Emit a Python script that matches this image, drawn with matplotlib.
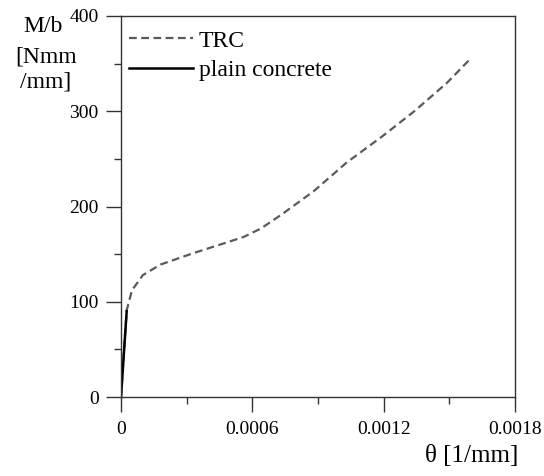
import numpy as np
import matplotlib.pyplot as plt
from matplotlib.ticker import MultipleLocator

plt.rcParams['font.family'] = ['Liberation Serif', 'DejaVu Serif']

# TRC curve
trc_theta = [0, 0.000026, 0.00005, 0.0001, 0.00018, 0.00033, 0.00048, 0.00056,
             0.00064, 0.00073, 0.00082, 0.00088, 0.00103, 0.00119, 0.00134,
             0.00149, 0.0016]
trc_m = [0, 91, 112, 128, 139, 151, 162, 168, 177, 191, 206, 216, 246, 273,
         300, 330, 356]

# plain concrete
pc_theta = [0, 0.000026]
pc_m = [0, 90]

xticks = [0, 0.0006, 0.0012, 0.0018]
xtick_labels = ['0', '0.0006', '0.0012', '0.0018']

fig = plt.figure(figsize=(5.44, 4.76), dpi=100)
ax = fig.add_axes([121/544, 1-397/476, (515-121)/544, (397-16)/476])

ax.plot(trc_theta, trc_m, color='#5a5a5a', lw=1.6, dashes=(3.5, 2.0), label='TRC')
ax.plot(pc_theta, pc_m, color='black', lw=1.8, label='plain concrete')

ax.set_xlim(0, 0.0018)
ax.set_ylim(0, 400)
ax.set_xticks(xticks)
ax.set_xticklabels(xtick_labels)
ax.xaxis.set_minor_locator(MultipleLocator(0.0003))
ax.yaxis.set_major_locator(MultipleLocator(100))
ax.yaxis.set_minor_locator(MultipleLocator(50))
ax.tick_params(which='major', length=11, width=1, labelsize=14, direction='out',
               color='#333333')
ax.tick_params(which='minor', length=5, width=1, direction='out', color='#333333')
ax.tick_params(axis='x', pad=6)
ax.tick_params(axis='y', pad=5)
for s in ax.spines.values():
    s.set_linewidth(1.0)
    s.set_color('#333333')

# legend placed in axes pixels from the top-left corner
leg = ax.legend(loc='upper left', bbox_to_anchor=(8/394, 1 - 14/381),
                frameon=False, fontsize=17, handlelength=2.7,
                handletextpad=0.25, borderaxespad=0.0, labelspacing=0.35,
                borderpad=0.0)

fig.text(63/544, 1-31.5/476, 'M/b', fontsize=17, ha='right', va='baseline')
fig.text(15/544, 1-63/476, '[Nmm', fontsize=17, ha='left', va='baseline')
fig.text(20/544, 1-87.5/476, '/mm]', fontsize=17, ha='left', va='baseline')
fig.text(518/544, 1-461.5/476, 'θ [1/mm]', fontsize=18, ha='right', va='baseline')

fig.savefig('out.png', dpi=100)
